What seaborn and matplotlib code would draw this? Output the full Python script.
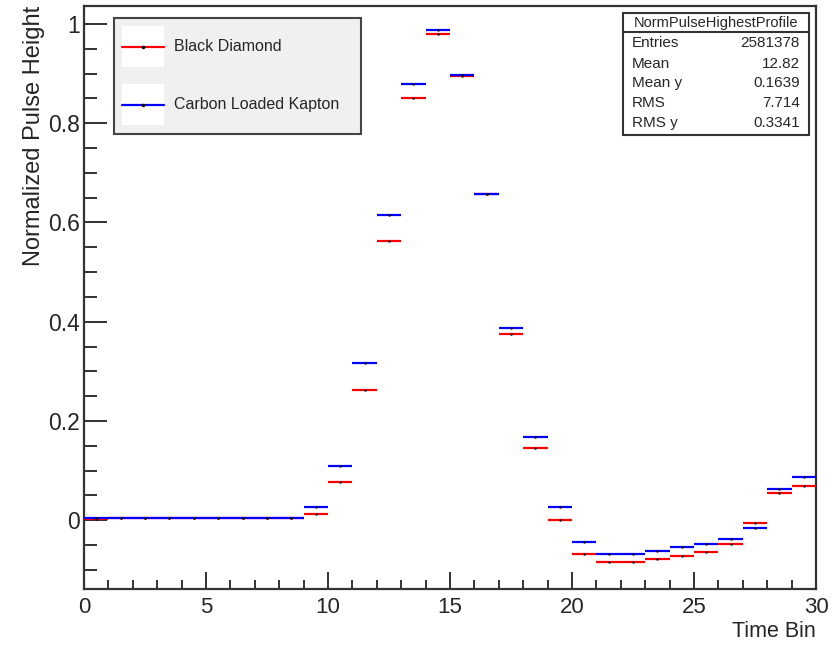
import numpy as np
import pandas as pd
import matplotlib
matplotlib.use("Agg")
import matplotlib.pyplot as plt
from matplotlib.patches import Rectangle
from matplotlib.lines import Line2D
from matplotlib.legend_handler import HandlerBase
from matplotlib.ticker import MultipleLocator, FuncFormatter
import seaborn as sns

# Profile bins (time bin index, unit width)
bin_low = list(range(30))
black_diamond = [0.002, 0.004, 0.004, 0.004, 0.004, 0.004, 0.004, 0.004, 0.004,
                 0.013, 0.077, 0.262, 0.562, 0.851, 0.980, 0.894, 0.658, 0.375,
                 0.145, 0.000, -0.067, -0.085, -0.085, -0.079, -0.072, -0.064,
                 -0.048, -0.005, 0.054, 0.070]
carbon_kapton = [0.005, 0.005, 0.005, 0.005, 0.005, 0.005, 0.005, 0.005, 0.005,
                 0.026, 0.109, 0.316, 0.614, 0.879, 0.987, 0.897, 0.658, 0.388,
                 0.167, 0.026, -0.043, -0.067, -0.067, -0.061, -0.054, -0.048,
                 -0.038, -0.015, 0.062, 0.088]
series_names = ["Black Diamond", "Carbon Loaded Kapton"]
series_colors = ["#ff0000", "#0000ff"]

stats_title = "NormPulseHighestProfile"
stats_keys = ["Entries", "Mean", "Mean y", "RMS", "RMS y"]
stats_vals = ["2581378", "12.82", "0.1639", "7.714", "0.3341"]

df = pd.concat([
    pd.DataFrame({"low": bin_low, "value": vals, "series": name})
    for name, vals in zip(series_names, [black_diamond, carbon_kapton])
], ignore_index=True)
df["high"] = df["low"] + 1
df["center"] = df["low"] + 0.5

sns.set_theme(style="white")
plt.rcParams["font.family"] = ["Liberation Sans", "DejaVu Sans"]

W, H = 832, 652
fig = plt.figure(figsize=(W / 100, H / 100), dpi=100)
ax = fig.add_axes([84 / W, 1 - 589 / H, (816 - 84) / W, (589 - 6) / H])

for name, color in zip(series_names, series_colors):
    sub = df[df["series"] == name]
    ax.hlines(sub["value"], sub["low"], sub["high"], colors=color, linewidth=1.6, zorder=3)
sns.scatterplot(data=df, x="center", y="value", color="black", s=3, marker="o",
                linewidth=0, legend=False, ax=ax, zorder=4)

ax.set_xlim(0, 30)
ax.set_ylim(-0.1385, 1.036)

ax.xaxis.set_major_locator(MultipleLocator(5))
ax.xaxis.set_minor_locator(MultipleLocator(1))
ax.yaxis.set_major_locator(MultipleLocator(0.2))
ax.yaxis.set_minor_locator(MultipleLocator(0.05))
ax.yaxis.set_major_formatter(FuncFormatter(lambda v, p: f"{v:g}" if abs(v) > 1e-9 else "0"))

ax.tick_params(axis="x", which="major", direction="in", length=12, width=1.3,
               labelsize=16, pad=6, bottom=True, top=False, color="#222222")
ax.tick_params(axis="x", which="minor", direction="in", length=6.5, width=1.3,
               bottom=True, top=False, color="#222222")
ax.tick_params(axis="y", which="major", direction="in", length=16.5, width=1.3,
               labelsize=16.5, pad=3, left=True, right=False, color="#222222")
ax.tick_params(axis="y", which="minor", direction="in", length=9, width=1.3,
               left=True, right=False, color="#222222")
for side in ax.spines.values():
    side.set_color("#333333")
    side.set_linewidth(1.6)

ax.set_xlabel("Time Bin", fontsize=15.5, loc="right", labelpad=2)
ax.set_ylabel("Normalized Pulse Height", fontsize=17, loc="top", labelpad=2)


class BoxLineHandler(HandlerBase):
    """Legend key: white square with a centred line sample and a small dot."""

    def create_artists(self, legend, orig_handle, xdescent, ydescent,
                       width, height, fontsize, trans):
        rect = Rectangle((-xdescent, -ydescent), width, height, facecolor="white",
                         edgecolor="none", transform=trans)
        yc = -ydescent + height / 2
        line = Line2D([-xdescent, -xdescent + width], [yc, yc],
                      color=orig_handle.get_color(), linewidth=1.6, transform=trans)
        dot = Line2D([-xdescent + width / 2], [yc], marker="o", markersize=1.5,
                     color="black", linestyle="none", transform=trans)
        return [rect, line, dot]


handles = [Line2D([0], [0], color=c) for c in series_colors]
lx0, lx1, ly0, ly1 = 114, 361, 18, 134
leg = ax.legend(handles, series_names, handler_map={Line2D: BoxLineHandler()},
                loc="upper left", mode="expand",
                bbox_to_anchor=(lx0 / W, 1 - ly1 / H, (lx1 - lx0) / W, (ly1 - ly0) / H),
                bbox_transform=fig.transFigure, fontsize=11.5,
                handlelength=2.6, handleheight=3.57, handletextpad=0.62,
                labelspacing=1.06, borderpad=0.53, borderaxespad=0,
                frameon=True, fancybox=False, facecolor="#f0f0f0",
                edgecolor="#444444", framealpha=1)
leg.get_frame().set_linewidth(1.5)

# Statistics box
x0, x1, y0, y1, ysep = 623, 809, 13, 135, 32
def fx(px):
    return px / W
def fy(py):
    return 1 - py / H
fig.add_artist(Rectangle((fx(x0), fy(y1)), fx(x1) - fx(x0), fy(y0) - fy(y1),
                         transform=fig.transFigure, facecolor="white",
                         edgecolor="#333333", linewidth=1.5, zorder=10))
fig.add_artist(Line2D([fx(x0), fx(x1)], [fy(ysep), fy(ysep)], transform=fig.transFigure,
                      color="#333333", linewidth=1.5, zorder=11))
fig.text(fx((x0 + x1) / 2), fy((y0 + ysep) / 2), stats_title, ha="center", va="center",
         fontsize=10.5, zorder=12)
row_y = [43, 63.5, 83, 103, 123]
for ry, k, v in zip(row_y, stats_keys, stats_vals):
    fig.text(fx(x0 + 9), fy(ry), k, ha="left", va="center", fontsize=11, zorder=12)
    fig.text(fx(x1 - 9), fy(ry), v, ha="right", va="center", fontsize=11, zorder=12)

fig.savefig("out.png", dpi=100)
